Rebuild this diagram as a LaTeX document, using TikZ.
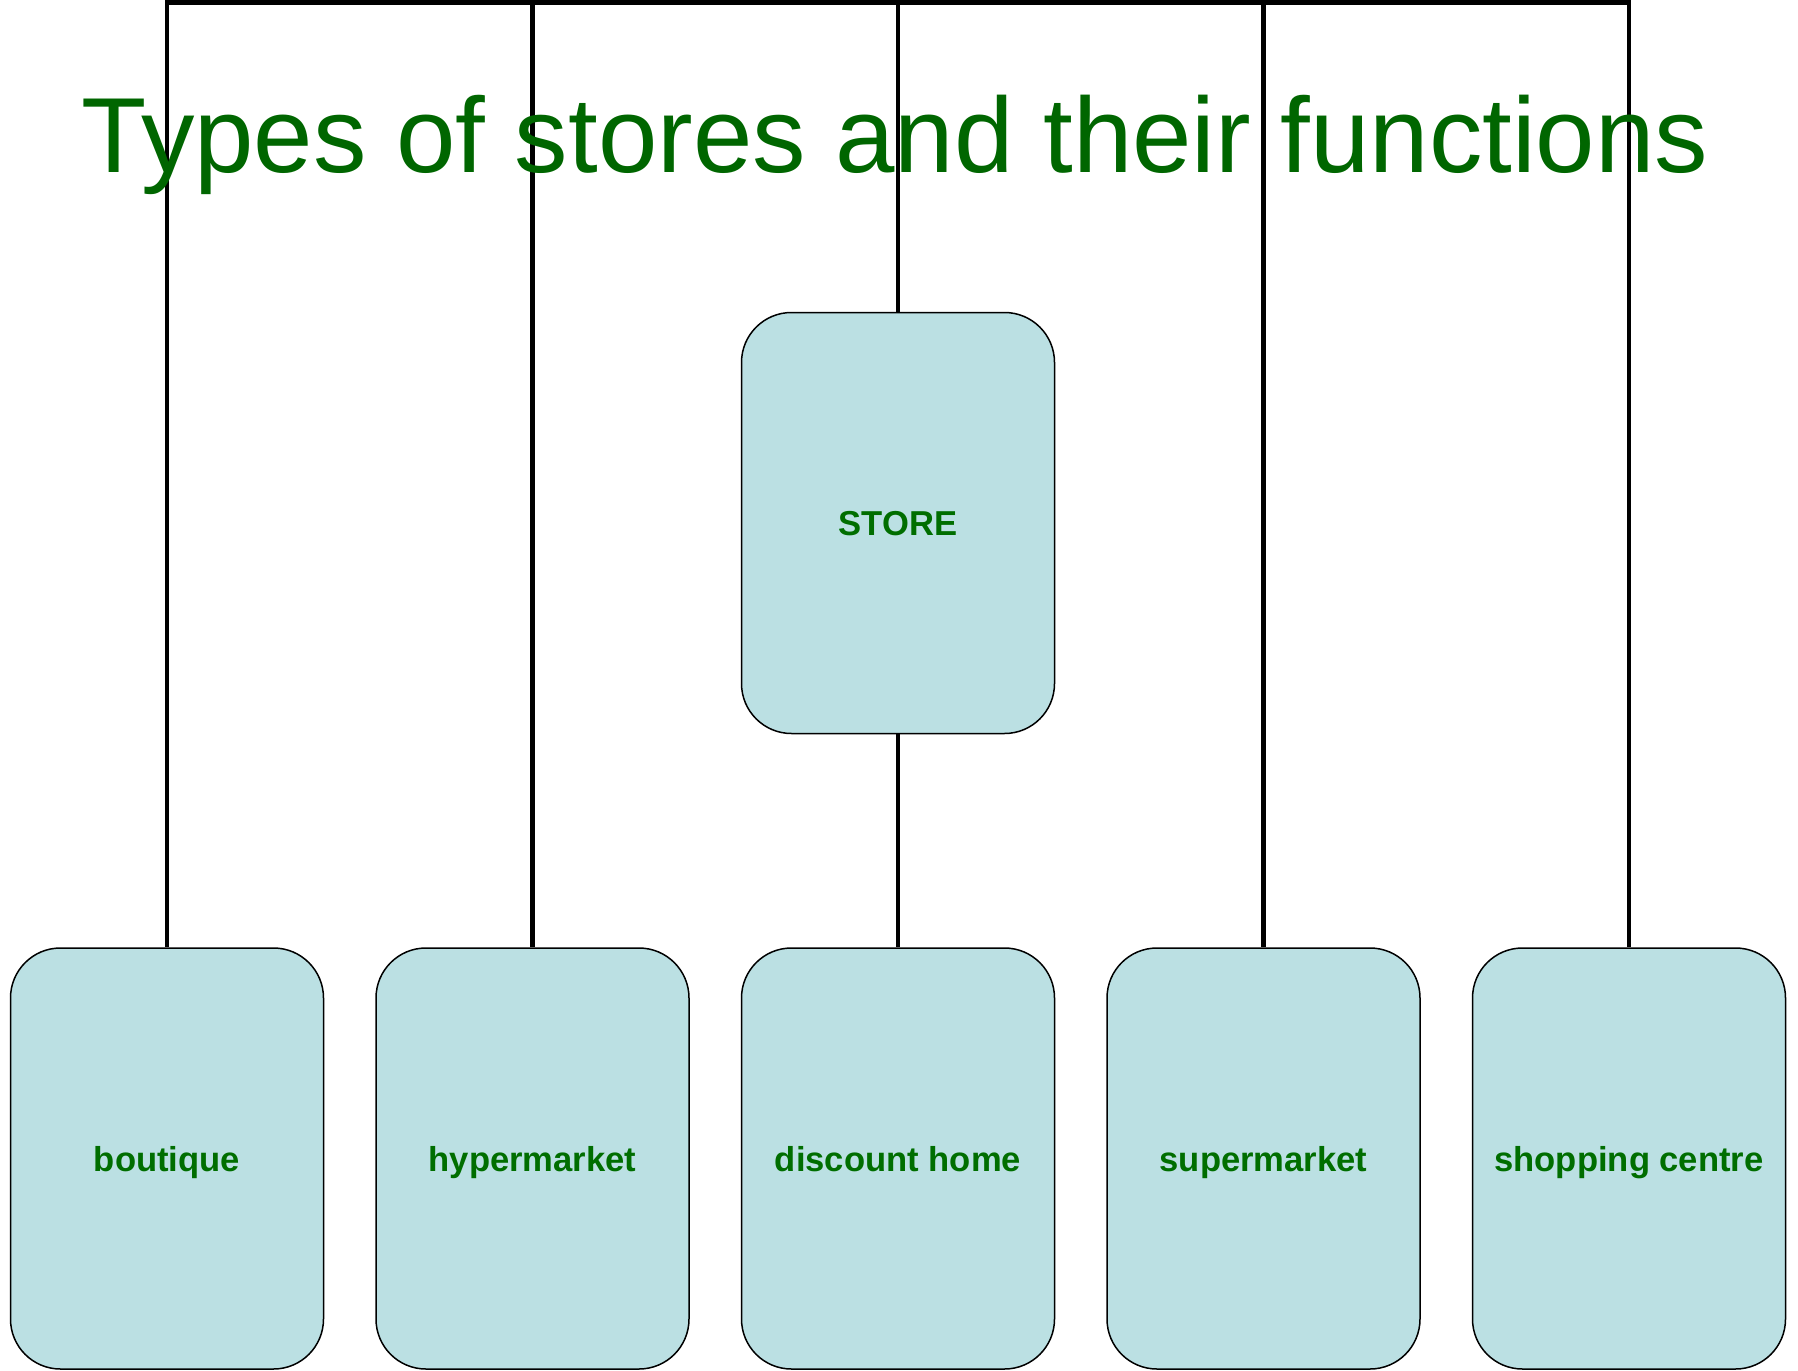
\documentclass[tikz,border=0pt]{standalone}
\usepackage{fontspec}
\setmainfont{Liberation Sans}
\usetikzlibrary{positioning}

\definecolor{titlegreen}{HTML}{006600}
\definecolor{labelgreen}{HTML}{006E00}
\definecolor{boxblue}{HTML}{BBE0E3}

\tikzstyle{storebox} = [draw=black, fill=boxblue, line width=0.75pt,
    rectangle, rounded corners=25pt, minimum width=156.5pt, minimum height=210.5pt,
    text height=12.8pt, text depth=0pt,
    text=labelgreen, font=\fontsize{17.3}{20}\selectfont\bfseries]
\tikzstyle{link} = [draw=black, line width=2.4pt]

\begin{document}
\begin{tikzpicture}[x=0.5pt, y=-0.5pt]
    \useasboundingbox (0,0) rectangle (1798,1370);
%------------ Wurzel und Kinder ---------------------
    \node [storebox] (store) at (898,523) {STORE};
    \node [storebox, below=106.5pt of store] (discount) {discount home};
    \node [storebox, left=25.5pt of discount] (hyper) {hypermarket};
    \node [storebox, left=25.5pt of hyper] (boutique) {boutique};
    \node [storebox, right=25.5pt of discount] (super) {supermarket};
    \node [storebox, right=25.5pt of super] (shopping) {shopping centre};
%------------ Verbindungen ---------------------
    \coordinate (top) at (store.north |- 0,2.5);
    \draw [link] (store.north) -- (top);
    \draw [link] (top) -| (boutique.north);
    \draw [link] (top) -| (hyper.north);
    \draw [link] (top) -| (super.north);
    \draw [link] (top) -| (shopping.north);
    \draw [link] (store.south) -- (discount.north);
%------------ Titel ---------------------
    \node [text=titlegreen, font=\fontsize{53.4}{60}\selectfont, anchor=base] (title) at (895,172)
    {Types of stores and their functions};
\end{tikzpicture}
\end{document}
